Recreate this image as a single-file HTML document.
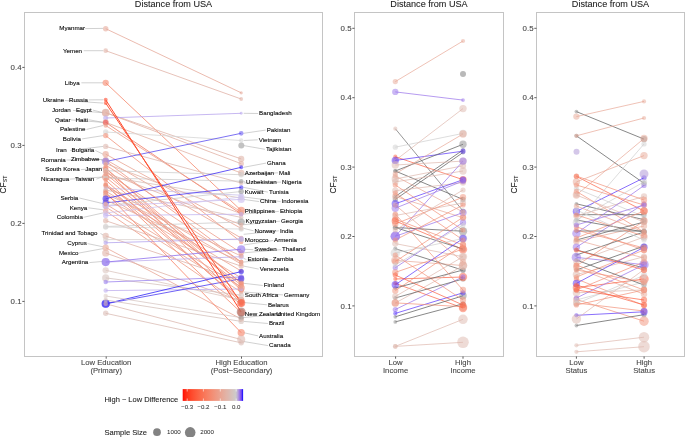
<!DOCTYPE html>
<html><head><meta charset="utf-8"><style>
html,body{margin:0;padding:0;background:#fff;}
svg{display:block;font-family:"Liberation Sans", sans-serif;will-change:transform;}
</style></head><body>
<svg width="685" height="437" viewBox="0 0 685 437">
<rect width="685" height="437" fill="#fff"/>
<rect x="24.5" y="12.5" width="298.0" height="344.0" fill="none" stroke="#c4c4c4" stroke-width="1"/>
<text x="173.5" y="7.0" font-size="9.1" text-anchor="middle" fill="#1a1a1a" stroke="#1a1a1a" stroke-width="0.15" stroke-opacity="0.5">Distance from USA</text>
<line x1="22.3" x2="24.5" y1="67.4" y2="67.4" stroke="#333333" stroke-width="0.8"/>
<text x="21.6" y="70.2" font-size="7.9" text-anchor="end" fill="#464646" stroke="#464646" stroke-width="0.15" stroke-opacity="0.6">0.4</text>
<line x1="22.3" x2="24.5" y1="145.4" y2="145.4" stroke="#333333" stroke-width="0.8"/>
<text x="21.6" y="148.2" font-size="7.9" text-anchor="end" fill="#464646" stroke="#464646" stroke-width="0.15" stroke-opacity="0.6">0.3</text>
<line x1="22.3" x2="24.5" y1="223.4" y2="223.4" stroke="#333333" stroke-width="0.8"/>
<text x="21.6" y="226.2" font-size="7.9" text-anchor="end" fill="#464646" stroke="#464646" stroke-width="0.15" stroke-opacity="0.6">0.2</text>
<line x1="22.3" x2="24.5" y1="301.4" y2="301.4" stroke="#333333" stroke-width="0.8"/>
<text x="21.6" y="304.2" font-size="7.9" text-anchor="end" fill="#464646" stroke="#464646" stroke-width="0.15" stroke-opacity="0.6">0.1</text>
<line x1="106.2" x2="106.2" y1="356.5" y2="358.7" stroke="#333333" stroke-width="0.8"/>
<text x="106.2" y="365.3" font-size="7.7" text-anchor="middle" fill="#464646" stroke="#464646" stroke-width="0.15" stroke-opacity="0.6">Low Education</text>
<text x="106.2" y="373.3" font-size="7.7" text-anchor="middle" fill="#464646" stroke="#464646" stroke-width="0.15" stroke-opacity="0.6">(Primary)</text>
<line x1="241.5" x2="241.5" y1="356.5" y2="358.7" stroke="#333333" stroke-width="0.8"/>
<text x="241.5" y="365.3" font-size="7.7" text-anchor="middle" fill="#464646" stroke="#464646" stroke-width="0.15" stroke-opacity="0.6">High Education</text>
<text x="241.5" y="373.3" font-size="7.7" text-anchor="middle" fill="#464646" stroke="#464646" stroke-width="0.15" stroke-opacity="0.6">(Post−Secondary)</text>
<rect x="354.5" y="12.5" width="149.0" height="344.0" fill="none" stroke="#c4c4c4" stroke-width="1"/>
<text x="429.0" y="7.0" font-size="9.1" text-anchor="middle" fill="#1a1a1a" stroke="#1a1a1a" stroke-width="0.15" stroke-opacity="0.5">Distance from USA</text>
<line x1="352.3" x2="354.5" y1="28.3" y2="28.3" stroke="#333333" stroke-width="0.8"/>
<text x="351.6" y="31.1" font-size="7.9" text-anchor="end" fill="#464646" stroke="#464646" stroke-width="0.15" stroke-opacity="0.6">0.5</text>
<line x1="352.3" x2="354.5" y1="97.7" y2="97.7" stroke="#333333" stroke-width="0.8"/>
<text x="351.6" y="100.4" font-size="7.9" text-anchor="end" fill="#464646" stroke="#464646" stroke-width="0.15" stroke-opacity="0.6">0.4</text>
<line x1="352.3" x2="354.5" y1="167.1" y2="167.1" stroke="#333333" stroke-width="0.8"/>
<text x="351.6" y="169.9" font-size="7.9" text-anchor="end" fill="#464646" stroke="#464646" stroke-width="0.15" stroke-opacity="0.6">0.3</text>
<line x1="352.3" x2="354.5" y1="236.5" y2="236.5" stroke="#333333" stroke-width="0.8"/>
<text x="351.6" y="239.2" font-size="7.9" text-anchor="end" fill="#464646" stroke="#464646" stroke-width="0.15" stroke-opacity="0.6">0.2</text>
<line x1="352.3" x2="354.5" y1="305.9" y2="305.9" stroke="#333333" stroke-width="0.8"/>
<text x="351.6" y="308.7" font-size="7.9" text-anchor="end" fill="#464646" stroke="#464646" stroke-width="0.15" stroke-opacity="0.6">0.1</text>
<line x1="395.6" x2="395.6" y1="356.5" y2="358.7" stroke="#333333" stroke-width="0.8"/>
<text x="395.6" y="365.3" font-size="7.7" text-anchor="middle" fill="#464646" stroke="#464646" stroke-width="0.15" stroke-opacity="0.6">Low</text>
<text x="395.6" y="373.3" font-size="7.7" text-anchor="middle" fill="#464646" stroke="#464646" stroke-width="0.15" stroke-opacity="0.6">Income</text>
<line x1="463.0" x2="463.0" y1="356.5" y2="358.7" stroke="#333333" stroke-width="0.8"/>
<text x="463.0" y="365.3" font-size="7.7" text-anchor="middle" fill="#464646" stroke="#464646" stroke-width="0.15" stroke-opacity="0.6">High</text>
<text x="463.0" y="373.3" font-size="7.7" text-anchor="middle" fill="#464646" stroke="#464646" stroke-width="0.15" stroke-opacity="0.6">Income</text>
<rect x="536.5" y="12.5" width="148.0" height="344.0" fill="none" stroke="#c4c4c4" stroke-width="1"/>
<text x="610.5" y="7.0" font-size="9.1" text-anchor="middle" fill="#1a1a1a" stroke="#1a1a1a" stroke-width="0.15" stroke-opacity="0.5">Distance from USA</text>
<line x1="534.3" x2="536.5" y1="28.3" y2="28.3" stroke="#333333" stroke-width="0.8"/>
<text x="533.6" y="31.1" font-size="7.9" text-anchor="end" fill="#464646" stroke="#464646" stroke-width="0.15" stroke-opacity="0.6">0.5</text>
<line x1="534.3" x2="536.5" y1="97.7" y2="97.7" stroke="#333333" stroke-width="0.8"/>
<text x="533.6" y="100.4" font-size="7.9" text-anchor="end" fill="#464646" stroke="#464646" stroke-width="0.15" stroke-opacity="0.6">0.4</text>
<line x1="534.3" x2="536.5" y1="167.1" y2="167.1" stroke="#333333" stroke-width="0.8"/>
<text x="533.6" y="169.9" font-size="7.9" text-anchor="end" fill="#464646" stroke="#464646" stroke-width="0.15" stroke-opacity="0.6">0.3</text>
<line x1="534.3" x2="536.5" y1="236.5" y2="236.5" stroke="#333333" stroke-width="0.8"/>
<text x="533.6" y="239.2" font-size="7.9" text-anchor="end" fill="#464646" stroke="#464646" stroke-width="0.15" stroke-opacity="0.6">0.2</text>
<line x1="534.3" x2="536.5" y1="305.9" y2="305.9" stroke="#333333" stroke-width="0.8"/>
<text x="533.6" y="308.7" font-size="7.9" text-anchor="end" fill="#464646" stroke="#464646" stroke-width="0.15" stroke-opacity="0.6">0.1</text>
<line x1="576.4" x2="576.4" y1="356.5" y2="358.7" stroke="#333333" stroke-width="0.8"/>
<text x="576.4" y="365.3" font-size="7.7" text-anchor="middle" fill="#464646" stroke="#464646" stroke-width="0.15" stroke-opacity="0.6">Low</text>
<text x="576.4" y="373.3" font-size="7.7" text-anchor="middle" fill="#464646" stroke="#464646" stroke-width="0.15" stroke-opacity="0.6">Status</text>
<line x1="644.1" x2="644.1" y1="356.5" y2="358.7" stroke="#333333" stroke-width="0.8"/>
<text x="644.1" y="365.3" font-size="7.7" text-anchor="middle" fill="#464646" stroke="#464646" stroke-width="0.15" stroke-opacity="0.6">High</text>
<text x="644.1" y="373.3" font-size="7.7" text-anchor="middle" fill="#464646" stroke="#464646" stroke-width="0.15" stroke-opacity="0.6">Status</text>
<text transform="translate(6.3,184.6) rotate(-90)" text-anchor="middle" font-size="8.4" fill="#1a1a1a" stroke="#1a1a1a" stroke-width="0.15" stroke-opacity="0.5">CF<tspan font-size="5.2" dy="0.9">ST</tspan></text>
<text transform="translate(336.0,184.6) rotate(-90)" text-anchor="middle" font-size="8.4" fill="#1a1a1a" stroke="#1a1a1a" stroke-width="0.15" stroke-opacity="0.5">CF<tspan font-size="5.2" dy="0.9">ST</tspan></text>
<text transform="translate(516.8,184.6) rotate(-90)" text-anchor="middle" font-size="8.4" fill="#1a1a1a" stroke="#1a1a1a" stroke-width="0.15" stroke-opacity="0.5">CF<tspan font-size="5.2" dy="0.9">ST</tspan></text>
<text x="104.4" y="401.8" font-size="7.5" fill="#1a1a1a" stroke="#1a1a1a" stroke-width="0.15" stroke-opacity="0.5">High − Low Difference</text>
<defs><linearGradient id="lg" x1="0" x2="1" y1="0" y2="0">
<stop offset="0.000" stop-color="#ff0401"/>
<stop offset="0.025" stop-color="#ff1c0a"/>
<stop offset="0.050" stop-color="#ff2913"/>
<stop offset="0.075" stop-color="#ff331a"/>
<stop offset="0.100" stop-color="#ff3c20"/>
<stop offset="0.125" stop-color="#fe4326"/>
<stop offset="0.150" stop-color="#fe4a2c"/>
<stop offset="0.175" stop-color="#fe5032"/>
<stop offset="0.200" stop-color="#fd5637"/>
<stop offset="0.225" stop-color="#fd5c3c"/>
<stop offset="0.250" stop-color="#fc6142"/>
<stop offset="0.275" stop-color="#fb6747"/>
<stop offset="0.300" stop-color="#fb6c4c"/>
<stop offset="0.325" stop-color="#fa7052"/>
<stop offset="0.350" stop-color="#f97557"/>
<stop offset="0.375" stop-color="#f87a5c"/>
<stop offset="0.400" stop-color="#f77e62"/>
<stop offset="0.425" stop-color="#f68367"/>
<stop offset="0.450" stop-color="#f5876c"/>
<stop offset="0.475" stop-color="#f48b71"/>
<stop offset="0.500" stop-color="#f29077"/>
<stop offset="0.525" stop-color="#f1947c"/>
<stop offset="0.550" stop-color="#ef9882"/>
<stop offset="0.575" stop-color="#ed9c87"/>
<stop offset="0.600" stop-color="#eca08c"/>
<stop offset="0.625" stop-color="#eaa492"/>
<stop offset="0.650" stop-color="#e8a897"/>
<stop offset="0.675" stop-color="#e5ac9d"/>
<stop offset="0.700" stop-color="#e3b0a2"/>
<stop offset="0.725" stop-color="#e1b4a8"/>
<stop offset="0.750" stop-color="#deb7ad"/>
<stop offset="0.775" stop-color="#dbbbb3"/>
<stop offset="0.800" stop-color="#d8bfb8"/>
<stop offset="0.825" stop-color="#d5c3be"/>
<stop offset="0.850" stop-color="#d1c7c4"/>
<stop offset="0.875" stop-color="#cecac9"/>
<stop offset="0.900" stop-color="#c3b7d3"/>
<stop offset="0.925" stop-color="#ad91e0"/>
<stop offset="0.950" stop-color="#9169eb"/>
<stop offset="0.975" stop-color="#6a40f5"/>
<stop offset="1.000" stop-color="#0000ff"/>
</linearGradient></defs>
<rect x="182.7" y="389.1" width="60.4" height="11.8" fill="url(#lg)"/>
<line x1="187.2" x2="187.2" y1="389.1" y2="391.5" stroke="#fff" stroke-width="0.6"/>
<line x1="187.2" x2="187.2" y1="398.5" y2="400.9" stroke="#fff" stroke-width="0.6"/>
<text x="187.2" y="409.2" font-size="6.1" text-anchor="middle" fill="#333" stroke="#333" stroke-width="0.12" stroke-opacity="0.5">−0.3</text>
<line x1="203.4" x2="203.4" y1="389.1" y2="391.5" stroke="#fff" stroke-width="0.6"/>
<line x1="203.4" x2="203.4" y1="398.5" y2="400.9" stroke="#fff" stroke-width="0.6"/>
<text x="203.4" y="409.2" font-size="6.1" text-anchor="middle" fill="#333" stroke="#333" stroke-width="0.12" stroke-opacity="0.5">−0.2</text>
<line x1="220.3" x2="220.3" y1="389.1" y2="391.5" stroke="#fff" stroke-width="0.6"/>
<line x1="220.3" x2="220.3" y1="398.5" y2="400.9" stroke="#fff" stroke-width="0.6"/>
<text x="220.3" y="409.2" font-size="6.1" text-anchor="middle" fill="#333" stroke="#333" stroke-width="0.12" stroke-opacity="0.5">−0.1</text>
<line x1="236.2" x2="236.2" y1="389.1" y2="391.5" stroke="#fff" stroke-width="0.6"/>
<line x1="236.2" x2="236.2" y1="398.5" y2="400.9" stroke="#fff" stroke-width="0.6"/>
<text x="236.2" y="409.2" font-size="6.1" text-anchor="middle" fill="#333" stroke="#333" stroke-width="0.12" stroke-opacity="0.5">0.0</text>
<text x="104.4" y="434.7" font-size="7.6" fill="#1a1a1a" stroke="#1a1a1a" stroke-width="0.15" stroke-opacity="0.5">Sample Size</text>
<circle cx="157" cy="432.2" r="3.85" fill="#828282"/>
<circle cx="190.2" cy="432.4" r="5.3" fill="#828282"/>
<text x="167" y="434.4" font-size="6.2" fill="#1a1a1a">1000</text>
<text x="200.2" y="434.4" font-size="6.2" fill="#1a1a1a">2000</text>
<line x1="85.2" y1="28.6" x2="103.2" y2="28.4" stroke="#ababab" stroke-width="0.55"/>
<line x1="83.7" y1="50.7" x2="103.2" y2="50.7" stroke="#ababab" stroke-width="0.55"/>
<line x1="81.4" y1="82.8" x2="103.2" y2="82.8" stroke="#ababab" stroke-width="0.55"/>
<line x1="64.9" y1="100.5" x2="103.2" y2="103.1" stroke="#ababab" stroke-width="0.55"/>
<line x1="88.8" y1="99.9" x2="103.2" y2="99.8" stroke="#ababab" stroke-width="0.55"/>
<line x1="73.0" y1="110.4" x2="103.2" y2="112.7" stroke="#ababab" stroke-width="0.55"/>
<line x1="92.9" y1="110.1" x2="103.2" y2="112.7" stroke="#ababab" stroke-width="0.55"/>
<line x1="71.0" y1="119.9" x2="103.2" y2="122.4" stroke="#ababab" stroke-width="0.55"/>
<line x1="88.6" y1="119.7" x2="103.2" y2="122.4" stroke="#ababab" stroke-width="0.55"/>
<line x1="86.5" y1="129.4" x2="103.2" y2="125.5" stroke="#ababab" stroke-width="0.55"/>
<line x1="82.1" y1="138.9" x2="103.2" y2="135.6" stroke="#ababab" stroke-width="0.55"/>
<line x1="70.2" y1="150.5" x2="103.2" y2="146.4" stroke="#ababab" stroke-width="0.55"/>
<line x1="95.4" y1="150.5" x2="103.2" y2="154.2" stroke="#ababab" stroke-width="0.55"/>
<line x1="66.5" y1="160.0" x2="103.2" y2="159.5" stroke="#ababab" stroke-width="0.55"/>
<line x1="100.9" y1="159.7" x2="103.2" y2="161.0" stroke="#ababab" stroke-width="0.55"/>
<line x1="80.9" y1="169.6" x2="103.2" y2="167.9" stroke="#ababab" stroke-width="0.55"/>
<line x1="104.2" y1="169.3" x2="103.2" y2="170.2" stroke="#ababab" stroke-width="0.55"/>
<line x1="70.0" y1="179.1" x2="103.2" y2="177.0" stroke="#ababab" stroke-width="0.55"/>
<line x1="96.4" y1="179.1" x2="103.2" y2="176.6" stroke="#ababab" stroke-width="0.55"/>
<line x1="79.4" y1="198.0" x2="103.2" y2="203.7" stroke="#ababab" stroke-width="0.55"/>
<line x1="88.4" y1="207.8" x2="103.2" y2="209.8" stroke="#ababab" stroke-width="0.55"/>
<line x1="83.6" y1="217.3" x2="103.2" y2="212.9" stroke="#ababab" stroke-width="0.55"/>
<line x1="100.5" y1="233.5" x2="103.2" y2="235.0" stroke="#ababab" stroke-width="0.55"/>
<line x1="87.6" y1="243.6" x2="103.2" y2="246.8" stroke="#ababab" stroke-width="0.55"/>
<line x1="78.6" y1="253.1" x2="103.2" y2="248.6" stroke="#ababab" stroke-width="0.55"/>
<line x1="89.4" y1="262.6" x2="103.2" y2="261.4" stroke="#ababab" stroke-width="0.55"/>
<line x1="243.7" y1="113.3" x2="258.1" y2="113.5" stroke="#ababab" stroke-width="0.55"/>
<line x1="243.7" y1="133.3" x2="265.7" y2="130.1" stroke="#ababab" stroke-width="0.55"/>
<line x1="243.7" y1="140.5" x2="257.7" y2="139.8" stroke="#ababab" stroke-width="0.55"/>
<line x1="243.7" y1="145.6" x2="265.0" y2="149.3" stroke="#ababab" stroke-width="0.55"/>
<line x1="243.7" y1="167.3" x2="266.0" y2="163.1" stroke="#ababab" stroke-width="0.55"/>
<line x1="243.7" y1="173.0" x2="243.8" y2="172.8" stroke="#ababab" stroke-width="0.55"/>
<line x1="243.7" y1="174.7" x2="278.1" y2="172.8" stroke="#ababab" stroke-width="0.55"/>
<line x1="243.7" y1="181.2" x2="245.0" y2="182.1" stroke="#ababab" stroke-width="0.55"/>
<line x1="243.7" y1="183.0" x2="281.0" y2="182.1" stroke="#ababab" stroke-width="0.55"/>
<line x1="243.7" y1="191.5" x2="243.8" y2="192.1" stroke="#ababab" stroke-width="0.55"/>
<line x1="243.7" y1="187.4" x2="267.9" y2="192.1" stroke="#ababab" stroke-width="0.55"/>
<line x1="243.7" y1="199.4" x2="259.1" y2="201.6" stroke="#ababab" stroke-width="0.55"/>
<line x1="243.7" y1="197.0" x2="280.6" y2="201.6" stroke="#ababab" stroke-width="0.55"/>
<line x1="243.7" y1="210.5" x2="243.8" y2="211.4" stroke="#ababab" stroke-width="0.55"/>
<line x1="243.7" y1="214.0" x2="278.9" y2="211.4" stroke="#ababab" stroke-width="0.55"/>
<line x1="243.7" y1="222.0" x2="244.5" y2="221.2" stroke="#ababab" stroke-width="0.55"/>
<line x1="243.7" y1="224.7" x2="280.0" y2="221.2" stroke="#ababab" stroke-width="0.55"/>
<line x1="243.7" y1="228.4" x2="253.6" y2="230.8" stroke="#ababab" stroke-width="0.55"/>
<line x1="243.7" y1="234.3" x2="278.9" y2="230.8" stroke="#ababab" stroke-width="0.55"/>
<line x1="243.7" y1="239.6" x2="243.8" y2="240.5" stroke="#ababab" stroke-width="0.55"/>
<line x1="243.7" y1="245.0" x2="273.0" y2="240.5" stroke="#ababab" stroke-width="0.55"/>
<line x1="243.7" y1="249.2" x2="253.3" y2="249.7" stroke="#ababab" stroke-width="0.55"/>
<line x1="243.7" y1="252.8" x2="281.0" y2="249.7" stroke="#ababab" stroke-width="0.55"/>
<line x1="243.7" y1="258.3" x2="246.4" y2="259.6" stroke="#ababab" stroke-width="0.55"/>
<line x1="243.7" y1="262.0" x2="271.8" y2="259.6" stroke="#ababab" stroke-width="0.55"/>
<line x1="243.7" y1="266.1" x2="258.7" y2="269.1" stroke="#ababab" stroke-width="0.55"/>
<line x1="243.7" y1="283.3" x2="262.8" y2="285.5" stroke="#ababab" stroke-width="0.55"/>
<line x1="243.7" y1="295.2" x2="243.8" y2="294.9" stroke="#ababab" stroke-width="0.55"/>
<line x1="243.7" y1="292.0" x2="283.0" y2="294.9" stroke="#ababab" stroke-width="0.55"/>
<line x1="243.7" y1="302.5" x2="266.9" y2="304.8" stroke="#ababab" stroke-width="0.55"/>
<line x1="243.7" y1="312.6" x2="243.8" y2="314.3" stroke="#ababab" stroke-width="0.55"/>
<line x1="243.7" y1="317.6" x2="275.2" y2="314.3" stroke="#ababab" stroke-width="0.55"/>
<line x1="243.7" y1="321.4" x2="267.9" y2="323.5" stroke="#ababab" stroke-width="0.55"/>
<line x1="243.7" y1="332.7" x2="258.1" y2="335.9" stroke="#ababab" stroke-width="0.55"/>
<line x1="243.7" y1="341.5" x2="268.0" y2="345.6" stroke="#ababab" stroke-width="0.55"/>
<line x1="105.7" y1="28.7" x2="241.2" y2="92.8" stroke="#e6aa9b" stroke-width="0.8"/>
<line x1="105.7" y1="50.7" x2="241.2" y2="99.0" stroke="#e1b3a7" stroke-width="0.8"/>
<line x1="105.7" y1="82.8" x2="241.2" y2="210.5" stroke="#f5866b" stroke-width="0.8"/>
<line x1="105.7" y1="112.7" x2="241.2" y2="158.9" stroke="#e0b4a8" stroke-width="0.8"/>
<line x1="105.7" y1="112.7" x2="241.2" y2="163.7" stroke="#e2b1a5" stroke-width="0.8"/>
<line x1="105.7" y1="118.0" x2="241.2" y2="113.3" stroke="#b9a6ee" stroke-width="0.8"/>
<line x1="105.7" y1="122.4" x2="241.2" y2="173.0" stroke="#e2b2a5" stroke-width="0.8"/>
<line x1="105.7" y1="122.4" x2="241.2" y2="214.0" stroke="#f07a62" stroke-width="0.8"/>
<line x1="105.7" y1="125.5" x2="241.2" y2="212.0" stroke="#ed9e8a" stroke-width="0.8"/>
<line x1="105.7" y1="132.0" x2="241.2" y2="140.5" stroke="#d6d6d6" stroke-width="0.8"/>
<line x1="105.7" y1="135.6" x2="241.2" y2="242.0" stroke="#f1937b" stroke-width="0.8"/>
<line x1="105.7" y1="146.4" x2="241.2" y2="183.0" stroke="#ddb9b0" stroke-width="0.8"/>
<line x1="105.7" y1="154.2" x2="241.2" y2="228.4" stroke="#e9a593" stroke-width="0.8"/>
<line x1="105.7" y1="159.5" x2="241.2" y2="238.0" stroke="#eaa290" stroke-width="0.8"/>
<line x1="105.7" y1="161.0" x2="241.2" y2="262.0" stroke="#f0967f" stroke-width="0.8"/>
<line x1="105.7" y1="161.5" x2="241.2" y2="133.3" stroke="#5a4cf0" stroke-width="0.8"/>
<line x1="105.7" y1="167.9" x2="241.2" y2="290.0" stroke="#f48a6f" stroke-width="0.8"/>
<line x1="105.7" y1="170.2" x2="241.2" y2="300.0" stroke="#f5856a" stroke-width="0.8"/>
<line x1="105.7" y1="168.5" x2="241.2" y2="283.3" stroke="#f38e75" stroke-width="0.8"/>
<line x1="105.7" y1="170.7" x2="241.2" y2="174.7" stroke="#cfcfcf" stroke-width="0.8"/>
<line x1="105.7" y1="172.0" x2="241.2" y2="262.0" stroke="#ed9c87" stroke-width="0.8"/>
<line x1="105.7" y1="177.0" x2="241.2" y2="287.9" stroke="#f29078" stroke-width="0.8"/>
<line x1="105.7" y1="178.0" x2="241.2" y2="181.2" stroke="#cdcdcd" stroke-width="0.8"/>
<line x1="105.7" y1="176.6" x2="241.2" y2="198.0" stroke="#d6c1bb" stroke-width="0.8"/>
<line x1="105.7" y1="185.0" x2="241.2" y2="312.6" stroke="#f5866b" stroke-width="0.8"/>
<line x1="105.7" y1="185.4" x2="241.2" y2="300.5" stroke="#f38e74" stroke-width="0.8"/>
<line x1="105.7" y1="188.1" x2="241.2" y2="195.2" stroke="#c9c0ea" stroke-width="0.8"/>
<line x1="105.7" y1="191.2" x2="241.2" y2="271.0" stroke="#eba28f" stroke-width="0.8"/>
<line x1="105.7" y1="190.0" x2="241.2" y2="217.4" stroke="#d9beb7" stroke-width="0.8"/>
<line x1="105.7" y1="163.7" x2="241.2" y2="213.7" stroke="#e2b2a5" stroke-width="0.8"/>
<line x1="105.7" y1="195.0" x2="241.2" y2="278.0" stroke="#eca08c" stroke-width="0.8"/>
<line x1="105.7" y1="203.0" x2="241.2" y2="187.4" stroke="#4636f4" stroke-width="0.8"/>
<line x1="105.7" y1="205.6" x2="241.2" y2="191.5" stroke="#cdcdcd" stroke-width="0.8"/>
<line x1="105.7" y1="207.0" x2="241.2" y2="292.0" stroke="#ec9f8b" stroke-width="0.8"/>
<line x1="105.7" y1="211.0" x2="241.2" y2="304.0" stroke="#ee9a85" stroke-width="0.8"/>
<line x1="105.7" y1="206.0" x2="241.2" y2="199.4" stroke="#cbbdf0" stroke-width="0.8"/>
<line x1="105.7" y1="213.0" x2="241.2" y2="197.0" stroke="#d2c8f0" stroke-width="0.8"/>
<line x1="105.7" y1="215.5" x2="241.2" y2="214.2" stroke="#c4b6f0" stroke-width="0.8"/>
<line x1="105.7" y1="220.7" x2="241.2" y2="266.1" stroke="#e0b4a9" stroke-width="0.8"/>
<line x1="105.7" y1="226.5" x2="241.2" y2="222.0" stroke="#cdcdcd" stroke-width="0.8"/>
<line x1="105.7" y1="227.0" x2="241.2" y2="229.0" stroke="#d4d4d4" stroke-width="0.8"/>
<line x1="105.7" y1="236.0" x2="241.2" y2="281.0" stroke="#e0b4a9" stroke-width="0.8"/>
<line x1="105.7" y1="239.6" x2="241.2" y2="239.6" stroke="#d9d0ce" stroke-width="0.8"/>
<line x1="105.7" y1="242.8" x2="241.2" y2="239.0" stroke="#b4a4ee" stroke-width="0.8"/>
<line x1="105.7" y1="247.7" x2="241.2" y2="319.0" stroke="#e8a695" stroke-width="0.8"/>
<line x1="105.7" y1="192.5" x2="241.2" y2="332.7" stroke="#f77f62" stroke-width="0.8"/>
<line x1="105.7" y1="253.0" x2="241.2" y2="301.0" stroke="#e1b3a7" stroke-width="0.8"/>
<line x1="105.7" y1="262.1" x2="241.2" y2="256.7" stroke="#c0b0ee" stroke-width="0.8"/>
<line x1="105.7" y1="270.3" x2="241.2" y2="300.0" stroke="#dcc6c0" stroke-width="0.8"/>
<line x1="105.7" y1="277.9" x2="241.2" y2="295.2" stroke="#d5c3be" stroke-width="0.8"/>
<line x1="105.7" y1="282.0" x2="241.2" y2="277.0" stroke="#9c84ee" stroke-width="0.8"/>
<line x1="105.7" y1="290.6" x2="241.2" y2="289.0" stroke="#c0b0ee" stroke-width="0.8"/>
<line x1="105.7" y1="303.8" x2="241.2" y2="271.6" stroke="#2f22f7" stroke-width="0.8"/>
<line x1="105.7" y1="303.8" x2="241.2" y2="278.7" stroke="#4a3af3" stroke-width="0.8"/>
<line x1="105.7" y1="313.3" x2="241.2" y2="342.8" stroke="#dabdb5" stroke-width="0.8"/>
<line x1="105.7" y1="303.8" x2="241.2" y2="339.5" stroke="#dcb9b0" stroke-width="0.8"/>
<line x1="105.7" y1="296.0" x2="241.2" y2="317.6" stroke="#d8c8c4" stroke-width="0.8"/>
<line x1="105.7" y1="300.0" x2="241.2" y2="321.4" stroke="#d6c1bb" stroke-width="0.8"/>
<line x1="105.7" y1="186.0" x2="241.2" y2="264.0" stroke="#eaa390" stroke-width="0.8"/>
<line x1="105.7" y1="180.0" x2="241.2" y2="302.5" stroke="#f4896f" stroke-width="0.8"/>
<line x1="105.7" y1="184.0" x2="241.2" y2="285.0" stroke="#f0967f" stroke-width="0.8"/>
<line x1="105.7" y1="174.0" x2="241.2" y2="283.0" stroke="#f29179" stroke-width="0.8"/>
<line x1="105.7" y1="194.0" x2="241.2" y2="256.0" stroke="#e6ab9c" stroke-width="0.8"/>
<line x1="105.7" y1="204.0" x2="241.2" y2="287.0" stroke="#eca08c" stroke-width="0.8"/>
<line x1="105.7" y1="200.0" x2="241.2" y2="262.0" stroke="#e6ab9c" stroke-width="0.8"/>
<line x1="105.7" y1="165.0" x2="241.2" y2="252.8" stroke="#ed9d89" stroke-width="0.8"/>
<line x1="105.7" y1="172.5" x2="241.2" y2="224.7" stroke="#e2b1a4" stroke-width="0.8"/>
<line x1="105.7" y1="262.1" x2="241.2" y2="249.2" stroke="#8e70ee" stroke-width="0.8"/>
<line x1="105.7" y1="198.7" x2="241.2" y2="167.3" stroke="#3d2cf5" stroke-width="0.8"/>
<line x1="105.7" y1="99.8" x2="241.2" y2="312.0" stroke="#ff4a2e" stroke-width="1.0"/>
<line x1="105.7" y1="103.1" x2="241.2" y2="303.0" stroke="#fd5536" stroke-width="1.0"/>
<circle cx="105.7" cy="28.7" r="2.70" fill="#e6aa9b" fill-opacity="0.6"/>
<circle cx="241.2" cy="92.8" r="1.62" fill="#e6aa9b" fill-opacity="0.6"/>
<circle cx="105.7" cy="50.7" r="2.34" fill="#e1b3a7" fill-opacity="0.6"/>
<circle cx="241.2" cy="99.0" r="1.89" fill="#e1b3a7" fill-opacity="0.6"/>
<circle cx="105.7" cy="82.8" r="3.15" fill="#f5866b" fill-opacity="0.6"/>
<circle cx="241.2" cy="210.5" r="3.78" fill="#f5866b" fill-opacity="0.6"/>
<circle cx="105.7" cy="112.7" r="3.87" fill="#e0b4a8" fill-opacity="0.6"/>
<circle cx="241.2" cy="158.9" r="3.15" fill="#e0b4a8" fill-opacity="0.6"/>
<circle cx="105.7" cy="112.7" r="3.60" fill="#e2b1a5" fill-opacity="0.6"/>
<circle cx="241.2" cy="163.7" r="2.70" fill="#e2b1a5" fill-opacity="0.6"/>
<circle cx="105.7" cy="118.0" r="2.52" fill="#b9a6ee" fill-opacity="0.6"/>
<circle cx="241.2" cy="113.3" r="1.44" fill="#b9a6ee" fill-opacity="0.6"/>
<circle cx="105.7" cy="122.4" r="3.15" fill="#e2b2a5" fill-opacity="0.6"/>
<circle cx="241.2" cy="173.0" r="3.15" fill="#e2b2a5" fill-opacity="0.6"/>
<circle cx="105.7" cy="122.4" r="2.70" fill="#ec4a4a" fill-opacity="0.6"/>
<circle cx="241.2" cy="214.0" r="2.25" fill="#ec4a4a" fill-opacity="0.6"/>
<circle cx="105.7" cy="125.5" r="2.25" fill="#ed9e8a" fill-opacity="0.6"/>
<circle cx="241.2" cy="212.0" r="2.25" fill="#ed9e8a" fill-opacity="0.6"/>
<circle cx="105.7" cy="132.0" r="2.70" fill="#d6d6d6" fill-opacity="0.6"/>
<circle cx="241.2" cy="140.5" r="2.25" fill="#d6d6d6" fill-opacity="0.6"/>
<circle cx="105.7" cy="135.6" r="2.70" fill="#f1937b" fill-opacity="0.6"/>
<circle cx="241.2" cy="242.0" r="2.25" fill="#f1937b" fill-opacity="0.6"/>
<circle cx="105.7" cy="146.4" r="2.70" fill="#ddb9b0" fill-opacity="0.6"/>
<circle cx="241.2" cy="183.0" r="2.25" fill="#ddb9b0" fill-opacity="0.6"/>
<circle cx="105.7" cy="154.2" r="3.15" fill="#e9a593" fill-opacity="0.6"/>
<circle cx="241.2" cy="228.4" r="2.25" fill="#e9a593" fill-opacity="0.6"/>
<circle cx="105.7" cy="159.5" r="2.70" fill="#eaa290" fill-opacity="0.6"/>
<circle cx="241.2" cy="238.0" r="2.25" fill="#eaa290" fill-opacity="0.6"/>
<circle cx="105.7" cy="161.0" r="2.70" fill="#f0967f" fill-opacity="0.6"/>
<circle cx="241.2" cy="262.0" r="2.25" fill="#f0967f" fill-opacity="0.6"/>
<circle cx="105.7" cy="161.5" r="3.78" fill="#8f80f0" fill-opacity="0.6"/>
<circle cx="241.2" cy="133.3" r="2.34" fill="#6a5cf0" fill-opacity="0.6"/>
<circle cx="105.7" cy="167.9" r="2.70" fill="#f48a6f" fill-opacity="0.6"/>
<circle cx="241.2" cy="290.0" r="2.70" fill="#f48a6f" fill-opacity="0.6"/>
<circle cx="105.7" cy="170.2" r="2.70" fill="#f5856a" fill-opacity="0.6"/>
<circle cx="241.2" cy="300.0" r="3.15" fill="#f5856a" fill-opacity="0.6"/>
<circle cx="105.7" cy="168.5" r="2.25" fill="#f38e75" fill-opacity="0.6"/>
<circle cx="241.2" cy="283.3" r="2.70" fill="#f38e75" fill-opacity="0.6"/>
<circle cx="105.7" cy="170.7" r="2.70" fill="#cfcfcf" fill-opacity="0.6"/>
<circle cx="241.2" cy="174.7" r="2.70" fill="#cfcfcf" fill-opacity="0.6"/>
<circle cx="105.7" cy="172.0" r="2.25" fill="#ed9c87" fill-opacity="0.6"/>
<circle cx="241.2" cy="262.0" r="2.25" fill="#ed9c87" fill-opacity="0.6"/>
<circle cx="105.7" cy="177.0" r="3.60" fill="#f29078" fill-opacity="0.6"/>
<circle cx="241.2" cy="287.9" r="3.60" fill="#f29078" fill-opacity="0.6"/>
<circle cx="105.7" cy="178.0" r="2.70" fill="#e0c8c0" fill-opacity="0.6"/>
<circle cx="241.2" cy="181.2" r="2.25" fill="#9a9a9a" fill-opacity="0.6"/>
<circle cx="105.7" cy="176.6" r="2.25" fill="#d6c1bb" fill-opacity="0.6"/>
<circle cx="241.2" cy="198.0" r="2.25" fill="#d6c1bb" fill-opacity="0.6"/>
<circle cx="105.7" cy="185.0" r="2.25" fill="#f5866b" fill-opacity="0.6"/>
<circle cx="241.2" cy="312.6" r="3.60" fill="#f5866b" fill-opacity="0.6"/>
<circle cx="105.7" cy="185.4" r="2.25" fill="#f38e74" fill-opacity="0.6"/>
<circle cx="241.2" cy="300.5" r="2.70" fill="#f38e74" fill-opacity="0.6"/>
<circle cx="105.7" cy="188.1" r="2.25" fill="#c9c0ea" fill-opacity="0.6"/>
<circle cx="241.2" cy="195.2" r="2.25" fill="#c9c0ea" fill-opacity="0.6"/>
<circle cx="105.7" cy="191.2" r="2.70" fill="#eba28f" fill-opacity="0.6"/>
<circle cx="241.2" cy="271.0" r="2.25" fill="#eba28f" fill-opacity="0.6"/>
<circle cx="105.7" cy="190.0" r="2.25" fill="#d9beb7" fill-opacity="0.6"/>
<circle cx="241.2" cy="217.4" r="2.25" fill="#d9beb7" fill-opacity="0.6"/>
<circle cx="105.7" cy="163.7" r="2.25" fill="#e2b2a5" fill-opacity="0.6"/>
<circle cx="241.2" cy="213.7" r="2.25" fill="#e2b2a5" fill-opacity="0.6"/>
<circle cx="105.7" cy="195.0" r="2.70" fill="#eca08c" fill-opacity="0.6"/>
<circle cx="241.2" cy="278.0" r="2.70" fill="#eca08c" fill-opacity="0.6"/>
<circle cx="105.7" cy="203.0" r="3.15" fill="#4636f4" fill-opacity="0.6"/>
<circle cx="241.2" cy="187.4" r="2.25" fill="#4636f4" fill-opacity="0.6"/>
<circle cx="105.7" cy="205.6" r="3.15" fill="#d0c8f0" fill-opacity="0.6"/>
<circle cx="241.2" cy="191.5" r="2.70" fill="#9a9a9a" fill-opacity="0.6"/>
<circle cx="105.7" cy="207.0" r="2.25" fill="#ec9f8b" fill-opacity="0.6"/>
<circle cx="241.2" cy="292.0" r="2.25" fill="#ec9f8b" fill-opacity="0.6"/>
<circle cx="105.7" cy="211.0" r="2.70" fill="#ee9a85" fill-opacity="0.6"/>
<circle cx="241.2" cy="304.0" r="2.70" fill="#ee9a85" fill-opacity="0.6"/>
<circle cx="105.7" cy="206.0" r="3.15" fill="#cbbdf0" fill-opacity="0.6"/>
<circle cx="241.2" cy="199.4" r="3.60" fill="#cbbdf0" fill-opacity="0.6"/>
<circle cx="105.7" cy="213.0" r="2.70" fill="#d2c8f0" fill-opacity="0.6"/>
<circle cx="241.2" cy="197.0" r="3.15" fill="#d2c8f0" fill-opacity="0.6"/>
<circle cx="105.7" cy="215.5" r="2.70" fill="#c4b6f0" fill-opacity="0.6"/>
<circle cx="241.2" cy="214.2" r="2.25" fill="#c4b6f0" fill-opacity="0.6"/>
<circle cx="105.7" cy="220.7" r="2.70" fill="#e0b4a9" fill-opacity="0.6"/>
<circle cx="241.2" cy="266.1" r="2.70" fill="#e0b4a9" fill-opacity="0.6"/>
<circle cx="105.7" cy="226.5" r="2.70" fill="#ddd6d4" fill-opacity="0.6"/>
<circle cx="241.2" cy="222.0" r="3.60" fill="#9a9a9a" fill-opacity="0.6"/>
<circle cx="105.7" cy="227.0" r="2.70" fill="#d4d4d4" fill-opacity="0.6"/>
<circle cx="241.2" cy="229.0" r="2.70" fill="#d4d4d4" fill-opacity="0.6"/>
<circle cx="105.7" cy="236.0" r="3.15" fill="#e0b4a9" fill-opacity="0.6"/>
<circle cx="241.2" cy="281.0" r="2.70" fill="#e0b4a9" fill-opacity="0.6"/>
<circle cx="105.7" cy="239.6" r="2.70" fill="#d9d0ce" fill-opacity="0.6"/>
<circle cx="241.2" cy="239.6" r="2.70" fill="#d9d0ce" fill-opacity="0.6"/>
<circle cx="105.7" cy="242.8" r="2.25" fill="#b4a4ee" fill-opacity="0.6"/>
<circle cx="241.2" cy="239.0" r="2.70" fill="#b4a4ee" fill-opacity="0.6"/>
<circle cx="105.7" cy="247.7" r="3.15" fill="#e8a695" fill-opacity="0.6"/>
<circle cx="241.2" cy="319.0" r="2.70" fill="#e8a695" fill-opacity="0.6"/>
<circle cx="105.7" cy="192.5" r="2.25" fill="#f77f62" fill-opacity="0.6"/>
<circle cx="241.2" cy="332.7" r="3.60" fill="#f77f62" fill-opacity="0.6"/>
<circle cx="105.7" cy="253.0" r="3.60" fill="#e1b3a7" fill-opacity="0.6"/>
<circle cx="241.2" cy="301.0" r="3.15" fill="#e1b3a7" fill-opacity="0.6"/>
<circle cx="105.7" cy="262.1" r="4.05" fill="#c0b0ee" fill-opacity="0.6"/>
<circle cx="241.2" cy="256.7" r="2.70" fill="#c0b0ee" fill-opacity="0.6"/>
<circle cx="105.7" cy="270.3" r="3.15" fill="#dcc6c0" fill-opacity="0.6"/>
<circle cx="241.2" cy="300.0" r="2.70" fill="#dcc6c0" fill-opacity="0.6"/>
<circle cx="105.7" cy="277.9" r="3.60" fill="#d5c3be" fill-opacity="0.6"/>
<circle cx="241.2" cy="295.2" r="2.70" fill="#d5c3be" fill-opacity="0.6"/>
<circle cx="105.7" cy="282.0" r="2.25" fill="#9c84ee" fill-opacity="0.6"/>
<circle cx="241.2" cy="277.0" r="2.70" fill="#9c84ee" fill-opacity="0.6"/>
<circle cx="105.7" cy="290.6" r="2.25" fill="#c0b0ee" fill-opacity="0.6"/>
<circle cx="241.2" cy="289.0" r="2.25" fill="#c0b0ee" fill-opacity="0.6"/>
<circle cx="105.7" cy="303.8" r="4.05" fill="#2f22f7" fill-opacity="0.6"/>
<circle cx="241.2" cy="271.6" r="2.70" fill="#2f22f7" fill-opacity="0.6"/>
<circle cx="105.7" cy="303.8" r="4.05" fill="#4a3af3" fill-opacity="0.6"/>
<circle cx="241.2" cy="278.7" r="3.15" fill="#4a3af3" fill-opacity="0.6"/>
<circle cx="105.7" cy="313.3" r="2.70" fill="#dabdb5" fill-opacity="0.6"/>
<circle cx="241.2" cy="342.8" r="2.70" fill="#dabdb5" fill-opacity="0.6"/>
<circle cx="105.7" cy="303.8" r="2.25" fill="#dcb9b0" fill-opacity="0.6"/>
<circle cx="241.2" cy="339.5" r="4.05" fill="#dcb9b0" fill-opacity="0.6"/>
<circle cx="105.7" cy="296.0" r="2.25" fill="#e0d0cc" fill-opacity="0.6"/>
<circle cx="241.2" cy="317.6" r="2.70" fill="#9a9a9a" fill-opacity="0.6"/>
<circle cx="105.7" cy="300.0" r="2.25" fill="#d6c1bb" fill-opacity="0.6"/>
<circle cx="241.2" cy="321.4" r="2.70" fill="#d6c1bb" fill-opacity="0.6"/>
<circle cx="105.7" cy="186.0" r="2.25" fill="#eaa390" fill-opacity="0.6"/>
<circle cx="241.2" cy="264.0" r="2.25" fill="#eaa390" fill-opacity="0.6"/>
<circle cx="105.7" cy="180.0" r="2.25" fill="#f4896f" fill-opacity="0.6"/>
<circle cx="241.2" cy="302.5" r="2.70" fill="#f4896f" fill-opacity="0.6"/>
<circle cx="105.7" cy="184.0" r="2.25" fill="#f0967f" fill-opacity="0.6"/>
<circle cx="241.2" cy="285.0" r="2.70" fill="#f0967f" fill-opacity="0.6"/>
<circle cx="105.7" cy="174.0" r="2.25" fill="#f29179" fill-opacity="0.6"/>
<circle cx="241.2" cy="283.0" r="2.25" fill="#f29179" fill-opacity="0.6"/>
<circle cx="105.7" cy="194.0" r="2.25" fill="#e6ab9c" fill-opacity="0.6"/>
<circle cx="241.2" cy="256.0" r="2.25" fill="#e6ab9c" fill-opacity="0.6"/>
<circle cx="105.7" cy="204.0" r="2.25" fill="#eca08c" fill-opacity="0.6"/>
<circle cx="241.2" cy="287.0" r="2.25" fill="#eca08c" fill-opacity="0.6"/>
<circle cx="105.7" cy="200.0" r="2.25" fill="#e6ab9c" fill-opacity="0.6"/>
<circle cx="241.2" cy="262.0" r="2.25" fill="#e6ab9c" fill-opacity="0.6"/>
<circle cx="105.7" cy="165.0" r="2.25" fill="#ed9d89" fill-opacity="0.6"/>
<circle cx="241.2" cy="252.8" r="2.70" fill="#ed9d89" fill-opacity="0.6"/>
<circle cx="105.7" cy="172.5" r="2.25" fill="#e2b1a4" fill-opacity="0.6"/>
<circle cx="241.2" cy="224.7" r="2.25" fill="#e2b1a4" fill-opacity="0.6"/>
<circle cx="105.7" cy="262.1" r="4.05" fill="#8e70ee" fill-opacity="0.6"/>
<circle cx="241.2" cy="249.2" r="4.05" fill="#8e70ee" fill-opacity="0.6"/>
<circle cx="105.7" cy="198.7" r="3.15" fill="#3d2cf5" fill-opacity="0.6"/>
<circle cx="241.2" cy="167.3" r="1.98" fill="#3d2cf5" fill-opacity="0.6"/>
<circle cx="105.7" cy="99.8" r="1.98" fill="#ff4a2e" fill-opacity="0.6"/>
<circle cx="241.2" cy="312.0" r="4.50" fill="#a8675f" fill-opacity="0.6"/>
<circle cx="105.7" cy="103.1" r="1.98" fill="#fd5536" fill-opacity="0.6"/>
<circle cx="241.2" cy="303.0" r="4.05" fill="#fd5536" fill-opacity="0.6"/>
<circle cx="241.3" cy="145.6" r="3.0" fill="#a8a8a8" fill-opacity="0.7"/>
<text x="59.3" y="30.4" font-size="6.2" fill="#000" stroke="#000" stroke-width="0.18" stroke-opacity="0.5">Myanmar</text>
<text x="63.0" y="52.5" font-size="6.2" fill="#000" stroke="#000" stroke-width="0.18" stroke-opacity="0.5">Yemen</text>
<text x="64.8" y="84.5" font-size="6.2" fill="#000" stroke="#000" stroke-width="0.18" stroke-opacity="0.5">Libya</text>
<text x="42.8" y="102.2" font-size="6.2" fill="#000" stroke="#000" stroke-width="0.18" stroke-opacity="0.5">Ukraine</text>
<text x="69.1" y="101.7" font-size="6.2" fill="#000" stroke="#000" stroke-width="0.18" stroke-opacity="0.5">Russia</text>
<text x="51.9" y="112.2" font-size="6.2" fill="#000" stroke="#000" stroke-width="0.18" stroke-opacity="0.5">Jordan</text>
<text x="76.0" y="111.8" font-size="6.2" fill="#000" stroke="#000" stroke-width="0.18" stroke-opacity="0.5">Egypt</text>
<text x="55.1" y="121.7" font-size="6.2" fill="#000" stroke="#000" stroke-width="0.18" stroke-opacity="0.5">Qatar</text>
<text x="75.5" y="121.5" font-size="6.2" fill="#000" stroke="#000" stroke-width="0.18" stroke-opacity="0.5">Haiti</text>
<text x="59.9" y="131.2" font-size="6.2" fill="#000" stroke="#000" stroke-width="0.18" stroke-opacity="0.5">Palestine</text>
<text x="62.8" y="140.7" font-size="6.2" fill="#000" stroke="#000" stroke-width="0.18" stroke-opacity="0.5">Bolivia</text>
<text x="56.0" y="152.2" font-size="6.2" fill="#000" stroke="#000" stroke-width="0.18" stroke-opacity="0.5">Iran</text>
<text x="71.6" y="152.2" font-size="6.2" fill="#000" stroke="#000" stroke-width="0.18" stroke-opacity="0.5">Bulgaria</text>
<text x="41.0" y="161.8" font-size="6.2" fill="#000" stroke="#000" stroke-width="0.18" stroke-opacity="0.5">Romania</text>
<text x="70.9" y="161.4" font-size="6.2" fill="#000" stroke="#000" stroke-width="0.18" stroke-opacity="0.5">Zimbabwe</text>
<text x="45.3" y="171.3" font-size="6.2" fill="#000" stroke="#000" stroke-width="0.18" stroke-opacity="0.5">South Korea</text>
<text x="85.2" y="171.1" font-size="6.2" fill="#000" stroke="#000" stroke-width="0.18" stroke-opacity="0.5">Japan</text>
<text x="41.0" y="180.8" font-size="6.2" fill="#000" stroke="#000" stroke-width="0.18" stroke-opacity="0.5">Nicaragua</text>
<text x="75.0" y="180.8" font-size="6.2" fill="#000" stroke="#000" stroke-width="0.18" stroke-opacity="0.5">Taiwan</text>
<text x="60.4" y="199.8" font-size="6.2" fill="#000" stroke="#000" stroke-width="0.18" stroke-opacity="0.5">Serbia</text>
<text x="69.7" y="209.6" font-size="6.2" fill="#000" stroke="#000" stroke-width="0.18" stroke-opacity="0.5">Kenya</text>
<text x="56.7" y="219.1" font-size="6.2" fill="#000" stroke="#000" stroke-width="0.18" stroke-opacity="0.5">Colombia</text>
<text x="41.4" y="235.2" font-size="6.2" fill="#000" stroke="#000" stroke-width="0.18" stroke-opacity="0.5">Trinidad and Tobago</text>
<text x="67.2" y="245.3" font-size="6.2" fill="#000" stroke="#000" stroke-width="0.18" stroke-opacity="0.5">Cyprus</text>
<text x="58.9" y="254.8" font-size="6.2" fill="#000" stroke="#000" stroke-width="0.18" stroke-opacity="0.5">Mexico</text>
<text x="61.8" y="264.4" font-size="6.2" fill="#000" stroke="#000" stroke-width="0.18" stroke-opacity="0.5">Argentina</text>
<text x="259.1" y="115.2" font-size="6.2" fill="#000" stroke="#000" stroke-width="0.18" stroke-opacity="0.5">Bangladesh</text>
<text x="266.7" y="131.8" font-size="6.2" fill="#000" stroke="#000" stroke-width="0.18" stroke-opacity="0.5">Pakistan</text>
<text x="258.7" y="141.6" font-size="6.2" fill="#000" stroke="#000" stroke-width="0.18" stroke-opacity="0.5">Vietnam</text>
<text x="266.0" y="151.1" font-size="6.2" fill="#000" stroke="#000" stroke-width="0.18" stroke-opacity="0.5">Tajikistan</text>
<text x="267.0" y="164.8" font-size="6.2" fill="#000" stroke="#000" stroke-width="0.18" stroke-opacity="0.5">Ghana</text>
<text x="244.8" y="174.6" font-size="6.2" fill="#000" stroke="#000" stroke-width="0.18" stroke-opacity="0.5">Azerbaijan</text>
<text x="279.1" y="174.6" font-size="6.2" fill="#000" stroke="#000" stroke-width="0.18" stroke-opacity="0.5">Mali</text>
<text x="246.0" y="183.8" font-size="6.2" fill="#000" stroke="#000" stroke-width="0.18" stroke-opacity="0.5">Uzbekistan</text>
<text x="282.0" y="183.8" font-size="6.2" fill="#000" stroke="#000" stroke-width="0.18" stroke-opacity="0.5">Nigeria</text>
<text x="244.8" y="193.8" font-size="6.2" fill="#000" stroke="#000" stroke-width="0.18" stroke-opacity="0.5">Kuwait</text>
<text x="268.9" y="193.8" font-size="6.2" fill="#000" stroke="#000" stroke-width="0.18" stroke-opacity="0.5">Tunisia</text>
<text x="260.1" y="203.3" font-size="6.2" fill="#000" stroke="#000" stroke-width="0.18" stroke-opacity="0.5">China</text>
<text x="281.6" y="203.3" font-size="6.2" fill="#000" stroke="#000" stroke-width="0.18" stroke-opacity="0.5">Indonesia</text>
<text x="244.8" y="213.2" font-size="6.2" fill="#000" stroke="#000" stroke-width="0.18" stroke-opacity="0.5">Philippines</text>
<text x="279.9" y="213.2" font-size="6.2" fill="#000" stroke="#000" stroke-width="0.18" stroke-opacity="0.5">Ethiopia</text>
<text x="245.5" y="222.9" font-size="6.2" fill="#000" stroke="#000" stroke-width="0.18" stroke-opacity="0.5">Kyrgyzstan</text>
<text x="281.0" y="222.9" font-size="6.2" fill="#000" stroke="#000" stroke-width="0.18" stroke-opacity="0.5">Georgia</text>
<text x="254.6" y="232.6" font-size="6.2" fill="#000" stroke="#000" stroke-width="0.18" stroke-opacity="0.5">Norway</text>
<text x="279.9" y="232.6" font-size="6.2" fill="#000" stroke="#000" stroke-width="0.18" stroke-opacity="0.5">India</text>
<text x="244.8" y="242.2" font-size="6.2" fill="#000" stroke="#000" stroke-width="0.18" stroke-opacity="0.5">Morocco</text>
<text x="274.0" y="242.2" font-size="6.2" fill="#000" stroke="#000" stroke-width="0.18" stroke-opacity="0.5">Armenia</text>
<text x="254.3" y="251.4" font-size="6.2" fill="#000" stroke="#000" stroke-width="0.18" stroke-opacity="0.5">Sweden</text>
<text x="282.0" y="251.4" font-size="6.2" fill="#000" stroke="#000" stroke-width="0.18" stroke-opacity="0.5">Thailand</text>
<text x="247.4" y="261.4" font-size="6.2" fill="#000" stroke="#000" stroke-width="0.18" stroke-opacity="0.5">Estonia</text>
<text x="272.8" y="261.4" font-size="6.2" fill="#000" stroke="#000" stroke-width="0.18" stroke-opacity="0.5">Zambia</text>
<text x="259.7" y="270.9" font-size="6.2" fill="#000" stroke="#000" stroke-width="0.18" stroke-opacity="0.5">Venezuela</text>
<text x="263.8" y="287.2" font-size="6.2" fill="#000" stroke="#000" stroke-width="0.18" stroke-opacity="0.5">Finland</text>
<text x="244.8" y="296.6" font-size="6.2" fill="#000" stroke="#000" stroke-width="0.18" stroke-opacity="0.5">South Africa</text>
<text x="284.0" y="296.6" font-size="6.2" fill="#000" stroke="#000" stroke-width="0.18" stroke-opacity="0.5">Germany</text>
<text x="267.9" y="306.6" font-size="6.2" fill="#000" stroke="#000" stroke-width="0.18" stroke-opacity="0.5">Belarus</text>
<text x="244.8" y="316.1" font-size="6.2" fill="#000" stroke="#000" stroke-width="0.18" stroke-opacity="0.5">New Zealand</text>
<text x="276.2" y="316.1" font-size="6.2" fill="#000" stroke="#000" stroke-width="0.18" stroke-opacity="0.5">United Kingdom</text>
<text x="268.9" y="325.2" font-size="6.2" fill="#000" stroke="#000" stroke-width="0.18" stroke-opacity="0.5">Brazil</text>
<text x="259.1" y="337.6" font-size="6.2" fill="#000" stroke="#000" stroke-width="0.18" stroke-opacity="0.5">Australia</text>
<text x="269.0" y="347.4" font-size="6.2" fill="#000" stroke="#000" stroke-width="0.18" stroke-opacity="0.5">Canada</text>
<line x1="395.3" y1="81.6" x2="463.0" y2="41.0" stroke="#e8a796" stroke-width="0.7"/>
<line x1="395.3" y1="91.9" x2="463.0" y2="100.1" stroke="#9670e9" stroke-width="0.7"/>
<line x1="395.3" y1="128.7" x2="463.0" y2="211.0" stroke="#6a6a6a" stroke-width="0.7"/>
<line x1="395.3" y1="147.2" x2="463.0" y2="133.4" stroke="#cfcfcf" stroke-width="0.7"/>
<line x1="395.3" y1="160.4" x2="463.0" y2="108.6" stroke="#deb8ae" stroke-width="0.7"/>
<line x1="395.3" y1="156.7" x2="463.0" y2="179.7" stroke="#fc5f40" stroke-width="0.7"/>
<line x1="395.3" y1="160.4" x2="463.0" y2="151.2" stroke="#5630f9" stroke-width="0.7"/>
<line x1="395.3" y1="173.8" x2="463.0" y2="134.0" stroke="#e8a796" stroke-width="0.7"/>
<line x1="395.3" y1="171.0" x2="463.0" y2="144.3" stroke="#6a6a6a" stroke-width="0.8"/>
<line x1="395.3" y1="171.0" x2="463.0" y2="199.4" stroke="#6a6a6a" stroke-width="0.8"/>
<line x1="395.3" y1="196.5" x2="463.0" y2="150.0" stroke="#6a6a6a" stroke-width="0.8"/>
<line x1="395.3" y1="199.4" x2="463.0" y2="152.5" stroke="#6a6a6a" stroke-width="0.8"/>
<line x1="395.3" y1="165.0" x2="463.0" y2="161.1" stroke="#deb8ae" stroke-width="0.7"/>
<line x1="395.3" y1="179.0" x2="463.0" y2="165.8" stroke="#deb8ae" stroke-width="0.7"/>
<line x1="395.3" y1="181.9" x2="463.0" y2="171.0" stroke="#deb8ae" stroke-width="0.7"/>
<line x1="395.3" y1="190.7" x2="463.0" y2="182.6" stroke="#deb8ae" stroke-width="0.7"/>
<line x1="395.3" y1="196.5" x2="463.0" y2="217.7" stroke="#e8a796" stroke-width="0.7"/>
<line x1="395.3" y1="203.8" x2="463.0" y2="179.7" stroke="#5630f9" stroke-width="0.7"/>
<line x1="395.3" y1="208.2" x2="463.0" y2="181.0" stroke="#9670e9" stroke-width="0.7"/>
<line x1="395.3" y1="236.3" x2="463.0" y2="161.1" stroke="#9670e9" stroke-width="0.7"/>
<line x1="395.3" y1="215.5" x2="463.0" y2="203.0" stroke="#deb8ae" stroke-width="0.7"/>
<line x1="395.3" y1="219.1" x2="463.0" y2="245.0" stroke="#f29179" stroke-width="0.7"/>
<line x1="395.3" y1="221.0" x2="463.0" y2="249.4" stroke="#fc5f40" stroke-width="0.7"/>
<line x1="395.3" y1="223.9" x2="463.0" y2="197.2" stroke="#f29179" stroke-width="0.7"/>
<line x1="395.3" y1="227.5" x2="463.0" y2="231.2" stroke="#6a6a6a" stroke-width="0.8"/>
<line x1="395.3" y1="236.3" x2="463.0" y2="212.6" stroke="#9670e9" stroke-width="0.7"/>
<line x1="395.3" y1="243.6" x2="463.0" y2="256.7" stroke="#deb8ae" stroke-width="0.7"/>
<line x1="395.3" y1="227.5" x2="463.0" y2="249.0" stroke="#6a6a6a" stroke-width="0.8"/>
<line x1="395.3" y1="248.7" x2="463.0" y2="270.2" stroke="#6a6a6a" stroke-width="0.8"/>
<line x1="395.3" y1="253.0" x2="463.0" y2="238.5" stroke="#cfcfcf" stroke-width="0.7"/>
<line x1="395.3" y1="267.7" x2="463.0" y2="222.4" stroke="#9670e9" stroke-width="0.7"/>
<line x1="395.3" y1="260.4" x2="463.0" y2="265.5" stroke="#e8a796" stroke-width="0.7"/>
<line x1="395.3" y1="261.5" x2="463.0" y2="217.3" stroke="#f29179" stroke-width="0.7"/>
<line x1="395.3" y1="272.4" x2="463.0" y2="249.0" stroke="#f29179" stroke-width="0.7"/>
<line x1="395.3" y1="279.0" x2="463.0" y2="277.0" stroke="#fc5f40" stroke-width="0.7"/>
<line x1="395.3" y1="283.4" x2="463.0" y2="308.0" stroke="#fc5f40" stroke-width="0.7"/>
<line x1="395.3" y1="284.8" x2="463.0" y2="238.5" stroke="#5630f9" stroke-width="0.7"/>
<line x1="395.3" y1="290.7" x2="463.0" y2="245.0" stroke="#f29179" stroke-width="0.7"/>
<line x1="395.3" y1="296.5" x2="463.0" y2="256.7" stroke="#deb8ae" stroke-width="0.7"/>
<line x1="395.3" y1="303.0" x2="463.0" y2="265.8" stroke="#deb8ae" stroke-width="0.7"/>
<line x1="395.3" y1="309.5" x2="463.0" y2="276.8" stroke="#9670e9" stroke-width="0.7"/>
<line x1="395.3" y1="313.4" x2="463.0" y2="292.8" stroke="#5630f9" stroke-width="0.7"/>
<line x1="395.3" y1="316.8" x2="463.0" y2="295.8" stroke="#6a6a6a" stroke-width="0.8"/>
<line x1="395.3" y1="321.9" x2="463.0" y2="303.8" stroke="#6a6a6a" stroke-width="0.8"/>
<line x1="395.3" y1="302.9" x2="463.0" y2="306.7" stroke="#f29179" stroke-width="0.7"/>
<line x1="395.3" y1="346.4" x2="463.0" y2="319.3" stroke="#deb8ae" stroke-width="0.7"/>
<line x1="395.3" y1="346.4" x2="463.0" y2="342.3" stroke="#deb8ae" stroke-width="0.7"/>
<line x1="395.3" y1="185.0" x2="463.0" y2="230.0" stroke="#f29179" stroke-width="0.7"/>
<line x1="395.3" y1="193.0" x2="463.0" y2="240.0" stroke="#f29179" stroke-width="0.7"/>
<line x1="395.3" y1="205.0" x2="463.0" y2="262.0" stroke="#e8a796" stroke-width="0.7"/>
<line x1="395.3" y1="230.0" x2="463.0" y2="190.0" stroke="#deb8ae" stroke-width="0.7"/>
<line x1="395.3" y1="240.0" x2="463.0" y2="205.0" stroke="#f29179" stroke-width="0.7"/>
<line x1="395.3" y1="255.0" x2="463.0" y2="300.0" stroke="#f29179" stroke-width="0.7"/>
<line x1="395.3" y1="265.0" x2="463.0" y2="225.0" stroke="#cfcfcf" stroke-width="0.7"/>
<line x1="395.3" y1="275.0" x2="463.0" y2="305.0" stroke="#fc5f40" stroke-width="0.7"/>
<line x1="395.3" y1="288.0" x2="463.0" y2="270.0" stroke="#6a6a6a" stroke-width="0.8"/>
<line x1="395.3" y1="298.0" x2="463.0" y2="279.0" stroke="#6a6a6a" stroke-width="0.8"/>
<line x1="395.3" y1="214.0" x2="463.0" y2="290.0" stroke="#f29179" stroke-width="0.7"/>
<line x1="395.3" y1="176.0" x2="463.0" y2="212.0" stroke="#e8a796" stroke-width="0.7"/>
<circle cx="395.3" cy="128.7" r="2.10" fill="#deb8ae" fill-opacity="0.5"/>
<circle cx="463.0" cy="211.0" r="2.62" fill="#8a8a8a" fill-opacity="0.5"/>
<circle cx="395.3" cy="171.0" r="2.10" fill="#8a8a8a" fill-opacity="0.5"/>
<circle cx="463.0" cy="144.3" r="3.68" fill="#8a8a8a" fill-opacity="0.5"/>
<circle cx="395.3" cy="171.0" r="2.10" fill="#8a8a8a" fill-opacity="0.5"/>
<circle cx="463.0" cy="199.4" r="2.62" fill="#8a8a8a" fill-opacity="0.5"/>
<circle cx="395.3" cy="196.5" r="2.10" fill="#8a8a8a" fill-opacity="0.5"/>
<circle cx="463.0" cy="150.0" r="2.10" fill="#8a8a8a" fill-opacity="0.5"/>
<circle cx="395.3" cy="199.4" r="2.62" fill="#8a8a8a" fill-opacity="0.5"/>
<circle cx="463.0" cy="152.5" r="2.10" fill="#8a8a8a" fill-opacity="0.5"/>
<circle cx="395.3" cy="227.5" r="2.62" fill="#8a8a8a" fill-opacity="0.5"/>
<circle cx="463.0" cy="231.2" r="4.20" fill="#8a8a8a" fill-opacity="0.5"/>
<circle cx="395.3" cy="227.5" r="2.10" fill="#8a8a8a" fill-opacity="0.5"/>
<circle cx="463.0" cy="249.0" r="2.62" fill="#8a8a8a" fill-opacity="0.5"/>
<circle cx="395.3" cy="248.7" r="2.10" fill="#8a8a8a" fill-opacity="0.5"/>
<circle cx="463.0" cy="270.2" r="2.62" fill="#8a8a8a" fill-opacity="0.5"/>
<circle cx="395.3" cy="316.8" r="1.89" fill="#8a8a8a" fill-opacity="0.5"/>
<circle cx="463.0" cy="295.8" r="3.68" fill="#8a8a8a" fill-opacity="0.5"/>
<circle cx="395.3" cy="321.9" r="1.89" fill="#8a8a8a" fill-opacity="0.5"/>
<circle cx="463.0" cy="303.8" r="2.62" fill="#8a8a8a" fill-opacity="0.5"/>
<circle cx="395.3" cy="288.0" r="2.10" fill="#8a8a8a" fill-opacity="0.5"/>
<circle cx="463.0" cy="270.0" r="2.62" fill="#8a8a8a" fill-opacity="0.5"/>
<circle cx="395.3" cy="298.0" r="2.10" fill="#8a8a8a" fill-opacity="0.5"/>
<circle cx="463.0" cy="279.0" r="2.62" fill="#8a8a8a" fill-opacity="0.5"/>
<circle cx="395.3" cy="81.6" r="2.62" fill="#e8a796" fill-opacity="0.5"/>
<circle cx="463.0" cy="41.0" r="2.10" fill="#e8a796" fill-opacity="0.5"/>
<circle cx="395.3" cy="91.9" r="3.15" fill="#9670e9" fill-opacity="0.5"/>
<circle cx="463.0" cy="100.1" r="1.89" fill="#9670e9" fill-opacity="0.5"/>
<circle cx="395.3" cy="147.2" r="2.62" fill="#cfcfcf" fill-opacity="0.5"/>
<circle cx="463.0" cy="133.4" r="3.68" fill="#cfcfcf" fill-opacity="0.5"/>
<circle cx="395.3" cy="160.4" r="2.62" fill="#deb8ae" fill-opacity="0.5"/>
<circle cx="463.0" cy="108.6" r="3.68" fill="#deb8ae" fill-opacity="0.5"/>
<circle cx="395.3" cy="156.7" r="2.10" fill="#fc5f40" fill-opacity="0.5"/>
<circle cx="463.0" cy="179.7" r="3.68" fill="#fc5f40" fill-opacity="0.5"/>
<circle cx="395.3" cy="160.4" r="3.68" fill="#5630f9" fill-opacity="0.5"/>
<circle cx="463.0" cy="151.2" r="2.62" fill="#5630f9" fill-opacity="0.5"/>
<circle cx="395.3" cy="173.8" r="2.62" fill="#e8a796" fill-opacity="0.5"/>
<circle cx="463.0" cy="134.0" r="3.68" fill="#e8a796" fill-opacity="0.5"/>
<circle cx="395.3" cy="165.0" r="3.68" fill="#deb8ae" fill-opacity="0.5"/>
<circle cx="463.0" cy="161.1" r="3.68" fill="#deb8ae" fill-opacity="0.5"/>
<circle cx="395.3" cy="179.0" r="3.68" fill="#deb8ae" fill-opacity="0.5"/>
<circle cx="463.0" cy="165.8" r="3.15" fill="#deb8ae" fill-opacity="0.5"/>
<circle cx="395.3" cy="181.9" r="3.15" fill="#deb8ae" fill-opacity="0.5"/>
<circle cx="463.0" cy="171.0" r="3.68" fill="#deb8ae" fill-opacity="0.5"/>
<circle cx="395.3" cy="190.7" r="3.15" fill="#deb8ae" fill-opacity="0.5"/>
<circle cx="463.0" cy="182.6" r="3.15" fill="#deb8ae" fill-opacity="0.5"/>
<circle cx="395.3" cy="196.5" r="3.15" fill="#e8a796" fill-opacity="0.5"/>
<circle cx="463.0" cy="217.7" r="3.15" fill="#e8a796" fill-opacity="0.5"/>
<circle cx="395.3" cy="203.8" r="3.68" fill="#5630f9" fill-opacity="0.5"/>
<circle cx="463.0" cy="179.7" r="3.15" fill="#5630f9" fill-opacity="0.5"/>
<circle cx="395.3" cy="208.2" r="3.68" fill="#9670e9" fill-opacity="0.5"/>
<circle cx="463.0" cy="181.0" r="3.15" fill="#9670e9" fill-opacity="0.5"/>
<circle cx="395.3" cy="236.3" r="4.73" fill="#9670e9" fill-opacity="0.5"/>
<circle cx="463.0" cy="161.1" r="3.68" fill="#9670e9" fill-opacity="0.5"/>
<circle cx="395.3" cy="215.5" r="3.15" fill="#deb8ae" fill-opacity="0.5"/>
<circle cx="463.0" cy="203.0" r="3.15" fill="#deb8ae" fill-opacity="0.5"/>
<circle cx="395.3" cy="219.1" r="3.15" fill="#f29179" fill-opacity="0.5"/>
<circle cx="463.0" cy="245.0" r="3.15" fill="#f29179" fill-opacity="0.5"/>
<circle cx="395.3" cy="221.0" r="3.68" fill="#fc5f40" fill-opacity="0.5"/>
<circle cx="463.0" cy="249.4" r="4.20" fill="#fc5f40" fill-opacity="0.5"/>
<circle cx="395.3" cy="223.9" r="3.15" fill="#f29179" fill-opacity="0.5"/>
<circle cx="463.0" cy="197.2" r="3.15" fill="#f29179" fill-opacity="0.5"/>
<circle cx="395.3" cy="236.3" r="4.73" fill="#9670e9" fill-opacity="0.5"/>
<circle cx="463.0" cy="212.6" r="3.68" fill="#9670e9" fill-opacity="0.5"/>
<circle cx="395.3" cy="243.6" r="3.15" fill="#deb8ae" fill-opacity="0.5"/>
<circle cx="463.0" cy="256.7" r="4.20" fill="#deb8ae" fill-opacity="0.5"/>
<circle cx="395.3" cy="253.0" r="4.73" fill="#cfcfcf" fill-opacity="0.5"/>
<circle cx="463.0" cy="238.5" r="4.20" fill="#cfcfcf" fill-opacity="0.5"/>
<circle cx="395.3" cy="267.7" r="2.62" fill="#9670e9" fill-opacity="0.5"/>
<circle cx="463.0" cy="222.4" r="3.15" fill="#9670e9" fill-opacity="0.5"/>
<circle cx="395.3" cy="260.4" r="4.20" fill="#e8a796" fill-opacity="0.5"/>
<circle cx="463.0" cy="265.5" r="4.20" fill="#e8a796" fill-opacity="0.5"/>
<circle cx="395.3" cy="261.5" r="3.15" fill="#f29179" fill-opacity="0.5"/>
<circle cx="463.0" cy="217.3" r="3.15" fill="#f29179" fill-opacity="0.5"/>
<circle cx="395.3" cy="272.4" r="3.15" fill="#f29179" fill-opacity="0.5"/>
<circle cx="463.0" cy="249.0" r="3.15" fill="#f29179" fill-opacity="0.5"/>
<circle cx="395.3" cy="279.0" r="2.10" fill="#fc5f40" fill-opacity="0.5"/>
<circle cx="463.0" cy="277.0" r="4.20" fill="#fc5f40" fill-opacity="0.5"/>
<circle cx="395.3" cy="283.4" r="2.10" fill="#fc5f40" fill-opacity="0.5"/>
<circle cx="463.0" cy="308.0" r="4.20" fill="#fc5f40" fill-opacity="0.5"/>
<circle cx="395.3" cy="284.8" r="3.68" fill="#5630f9" fill-opacity="0.5"/>
<circle cx="463.0" cy="238.5" r="3.68" fill="#5630f9" fill-opacity="0.5"/>
<circle cx="395.3" cy="290.7" r="3.15" fill="#f29179" fill-opacity="0.5"/>
<circle cx="463.0" cy="245.0" r="3.15" fill="#f29179" fill-opacity="0.5"/>
<circle cx="395.3" cy="296.5" r="3.15" fill="#deb8ae" fill-opacity="0.5"/>
<circle cx="463.0" cy="256.7" r="3.15" fill="#deb8ae" fill-opacity="0.5"/>
<circle cx="395.3" cy="303.0" r="3.68" fill="#deb8ae" fill-opacity="0.5"/>
<circle cx="463.0" cy="265.8" r="4.20" fill="#deb8ae" fill-opacity="0.5"/>
<circle cx="395.3" cy="309.5" r="2.62" fill="#9670e9" fill-opacity="0.5"/>
<circle cx="463.0" cy="276.8" r="2.62" fill="#9670e9" fill-opacity="0.5"/>
<circle cx="395.3" cy="313.4" r="2.10" fill="#5630f9" fill-opacity="0.5"/>
<circle cx="463.0" cy="292.8" r="2.62" fill="#5630f9" fill-opacity="0.5"/>
<circle cx="395.3" cy="302.9" r="3.68" fill="#f29179" fill-opacity="0.5"/>
<circle cx="463.0" cy="306.7" r="4.20" fill="#f29179" fill-opacity="0.5"/>
<circle cx="395.3" cy="346.4" r="2.31" fill="#deb8ae" fill-opacity="0.5"/>
<circle cx="463.0" cy="319.3" r="4.73" fill="#deb8ae" fill-opacity="0.5"/>
<circle cx="395.3" cy="346.4" r="2.31" fill="#deb8ae" fill-opacity="0.5"/>
<circle cx="463.0" cy="342.3" r="5.78" fill="#deb8ae" fill-opacity="0.5"/>
<circle cx="395.3" cy="185.0" r="2.62" fill="#f29179" fill-opacity="0.5"/>
<circle cx="463.0" cy="230.0" r="2.62" fill="#f29179" fill-opacity="0.5"/>
<circle cx="395.3" cy="193.0" r="2.62" fill="#f29179" fill-opacity="0.5"/>
<circle cx="463.0" cy="240.0" r="2.62" fill="#f29179" fill-opacity="0.5"/>
<circle cx="395.3" cy="205.0" r="2.62" fill="#e8a796" fill-opacity="0.5"/>
<circle cx="463.0" cy="262.0" r="3.15" fill="#e8a796" fill-opacity="0.5"/>
<circle cx="395.3" cy="230.0" r="2.62" fill="#deb8ae" fill-opacity="0.5"/>
<circle cx="463.0" cy="190.0" r="2.62" fill="#deb8ae" fill-opacity="0.5"/>
<circle cx="395.3" cy="240.0" r="2.62" fill="#f29179" fill-opacity="0.5"/>
<circle cx="463.0" cy="205.0" r="2.62" fill="#f29179" fill-opacity="0.5"/>
<circle cx="395.3" cy="255.0" r="2.62" fill="#f29179" fill-opacity="0.5"/>
<circle cx="463.0" cy="300.0" r="3.15" fill="#f29179" fill-opacity="0.5"/>
<circle cx="395.3" cy="265.0" r="2.62" fill="#cfcfcf" fill-opacity="0.5"/>
<circle cx="463.0" cy="225.0" r="2.62" fill="#cfcfcf" fill-opacity="0.5"/>
<circle cx="395.3" cy="275.0" r="2.62" fill="#fc5f40" fill-opacity="0.5"/>
<circle cx="463.0" cy="305.0" r="3.15" fill="#fc5f40" fill-opacity="0.5"/>
<circle cx="395.3" cy="214.0" r="2.62" fill="#f29179" fill-opacity="0.5"/>
<circle cx="463.0" cy="290.0" r="3.15" fill="#f29179" fill-opacity="0.5"/>
<circle cx="395.3" cy="176.0" r="2.62" fill="#e8a796" fill-opacity="0.5"/>
<circle cx="463.0" cy="212.0" r="2.62" fill="#e8a796" fill-opacity="0.5"/>
<circle cx="463.0" cy="74.0" r="3.0" fill="#8a8a8a" fill-opacity="0.6"/>
<line x1="576.4" y1="111.6" x2="644.0" y2="139.1" stroke="#6a6a6a" stroke-width="0.8"/>
<line x1="576.4" y1="116.6" x2="644.0" y2="101.4" stroke="#e8a796" stroke-width="0.7"/>
<line x1="576.4" y1="135.8" x2="644.0" y2="118.0" stroke="#e8a796" stroke-width="0.7"/>
<line x1="576.4" y1="135.8" x2="644.0" y2="183.3" stroke="#6a6a6a" stroke-width="0.8"/>
<line x1="576.4" y1="176.4" x2="644.0" y2="211.0" stroke="#fc5f40" stroke-width="0.7"/>
<line x1="576.4" y1="195.0" x2="644.0" y2="138.5" stroke="#e8a796" stroke-width="0.7"/>
<line x1="576.4" y1="181.9" x2="644.0" y2="155.6" stroke="#e8a796" stroke-width="0.7"/>
<line x1="576.4" y1="222.4" x2="644.0" y2="144.0" stroke="#cfcfcf" stroke-width="0.7"/>
<line x1="576.4" y1="211.4" x2="644.0" y2="177.8" stroke="#5630f9" stroke-width="0.7"/>
<line x1="576.4" y1="188.5" x2="644.0" y2="216.6" stroke="#cfcfcf" stroke-width="0.7"/>
<line x1="576.4" y1="191.4" x2="644.0" y2="231.9" stroke="#f29179" stroke-width="0.7"/>
<line x1="576.4" y1="203.8" x2="644.0" y2="219.7" stroke="#6a6a6a" stroke-width="0.8"/>
<line x1="576.4" y1="214.7" x2="644.0" y2="214.6" stroke="#6a6a6a" stroke-width="0.8"/>
<line x1="576.4" y1="215.8" x2="644.0" y2="196.5" stroke="#deb8ae" stroke-width="0.7"/>
<line x1="576.4" y1="226.8" x2="644.0" y2="250.0" stroke="#f29179" stroke-width="0.7"/>
<line x1="576.4" y1="233.4" x2="644.0" y2="185.5" stroke="#9670e9" stroke-width="0.7"/>
<line x1="576.4" y1="241.4" x2="644.0" y2="226.0" stroke="#e8a796" stroke-width="0.7"/>
<line x1="576.4" y1="247.2" x2="644.0" y2="203.8" stroke="#9670e9" stroke-width="0.7"/>
<line x1="576.4" y1="257.4" x2="644.0" y2="264.7" stroke="#9670e9" stroke-width="0.7"/>
<line x1="576.4" y1="261.8" x2="644.0" y2="237.0" stroke="#deb8ae" stroke-width="0.7"/>
<line x1="576.4" y1="265.8" x2="644.0" y2="221.0" stroke="#f29179" stroke-width="0.7"/>
<line x1="576.4" y1="267.7" x2="644.0" y2="294.3" stroke="#e8a796" stroke-width="0.7"/>
<line x1="576.4" y1="274.6" x2="644.0" y2="256.7" stroke="#deb8ae" stroke-width="0.7"/>
<line x1="576.4" y1="279.0" x2="644.0" y2="305.3" stroke="#f29179" stroke-width="0.7"/>
<line x1="576.4" y1="283.4" x2="644.0" y2="247.2" stroke="#5630f9" stroke-width="0.7"/>
<line x1="576.4" y1="287.7" x2="644.0" y2="279.0" stroke="#fc5f40" stroke-width="0.7"/>
<line x1="576.4" y1="292.8" x2="644.0" y2="289.9" stroke="#deb8ae" stroke-width="0.7"/>
<line x1="576.4" y1="299.4" x2="644.0" y2="321.2" stroke="#f29179" stroke-width="0.7"/>
<line x1="576.4" y1="303.0" x2="644.0" y2="311.0" stroke="#f29179" stroke-width="0.7"/>
<line x1="576.4" y1="303.6" x2="644.0" y2="275.3" stroke="#cfcfcf" stroke-width="0.7"/>
<line x1="576.4" y1="315.3" x2="644.0" y2="311.8" stroke="#5630f9" stroke-width="0.7"/>
<line x1="576.4" y1="319.0" x2="644.0" y2="269.5" stroke="#deb8ae" stroke-width="0.7"/>
<line x1="576.4" y1="325.5" x2="644.0" y2="314.7" stroke="#6a6a6a" stroke-width="0.8"/>
<line x1="576.4" y1="345.3" x2="644.0" y2="337.2" stroke="#deb8ae" stroke-width="0.7"/>
<line x1="576.4" y1="351.8" x2="644.0" y2="346.7" stroke="#deb8ae" stroke-width="0.7"/>
<line x1="576.4" y1="176.0" x2="644.0" y2="200.0" stroke="#f29179" stroke-width="0.7"/>
<line x1="576.4" y1="185.0" x2="644.0" y2="205.0" stroke="#f29179" stroke-width="0.7"/>
<line x1="576.4" y1="206.0" x2="644.0" y2="232.0" stroke="#e8a796" stroke-width="0.7"/>
<line x1="576.4" y1="231.0" x2="644.0" y2="231.0" stroke="#6a6a6a" stroke-width="0.8"/>
<line x1="576.4" y1="238.0" x2="644.0" y2="211.1" stroke="#f29179" stroke-width="0.7"/>
<line x1="576.4" y1="250.0" x2="644.0" y2="268.0" stroke="#6a6a6a" stroke-width="0.8"/>
<line x1="576.4" y1="255.0" x2="644.0" y2="231.9" stroke="#6a6a6a" stroke-width="0.8"/>
<line x1="576.4" y1="270.0" x2="644.0" y2="246.0" stroke="#6a6a6a" stroke-width="0.8"/>
<line x1="576.4" y1="277.0" x2="644.0" y2="250.0" stroke="#f29179" stroke-width="0.7"/>
<line x1="576.4" y1="290.0" x2="644.0" y2="262.0" stroke="#f29179" stroke-width="0.7"/>
<line x1="576.4" y1="298.0" x2="644.0" y2="264.7" stroke="#9670e9" stroke-width="0.7"/>
<line x1="576.4" y1="305.0" x2="644.0" y2="289.9" stroke="#f29179" stroke-width="0.7"/>
<line x1="576.4" y1="300.0" x2="644.0" y2="282.0" stroke="#cfcfcf" stroke-width="0.7"/>
<line x1="576.4" y1="260.0" x2="644.0" y2="285.0" stroke="#6a6a6a" stroke-width="0.8"/>
<line x1="576.4" y1="220.0" x2="644.0" y2="181.9" stroke="#cfcfcf" stroke-width="0.7"/>
<line x1="576.4" y1="240.0" x2="644.0" y2="258.0" stroke="#e8a796" stroke-width="0.7"/>
<line x1="576.4" y1="265.0" x2="644.0" y2="290.0" stroke="#f29179" stroke-width="0.7"/>
<line x1="576.4" y1="285.0" x2="644.0" y2="305.0" stroke="#fc5f40" stroke-width="0.7"/>
<line x1="576.4" y1="195.0" x2="644.0" y2="222.0" stroke="#deb8ae" stroke-width="0.7"/>
<line x1="576.4" y1="230.0" x2="644.0" y2="248.0" stroke="#f29179" stroke-width="0.7"/>
<line x1="576.4" y1="250.0" x2="644.0" y2="270.0" stroke="#fc5f40" stroke-width="0.7"/>
<line x1="576.4" y1="270.0" x2="644.0" y2="282.0" stroke="#f29179" stroke-width="0.7"/>
<line x1="576.4" y1="215.0" x2="644.0" y2="236.0" stroke="#f29179" stroke-width="0.7"/>
<line x1="576.4" y1="220.0" x2="644.0" y2="232.0" stroke="#6a6a6a" stroke-width="0.8"/>
<line x1="576.4" y1="240.0" x2="644.0" y2="222.0" stroke="#6a6a6a" stroke-width="0.8"/>
<line x1="576.4" y1="210.0" x2="644.0" y2="240.0" stroke="#cfcfcf" stroke-width="0.7"/>
<line x1="576.4" y1="225.0" x2="644.0" y2="205.0" stroke="#9670e9" stroke-width="0.7"/>
<line x1="576.4" y1="290.0" x2="644.0" y2="300.0" stroke="#fc5f40" stroke-width="0.7"/>
<circle cx="576.4" cy="111.6" r="1.89" fill="#8a8a8a" fill-opacity="0.5"/>
<circle cx="644.0" cy="139.1" r="3.15" fill="#8a8a8a" fill-opacity="0.5"/>
<circle cx="576.4" cy="135.8" r="2.10" fill="#8a8a8a" fill-opacity="0.5"/>
<circle cx="644.0" cy="183.3" r="2.62" fill="#8a8a8a" fill-opacity="0.5"/>
<circle cx="576.4" cy="203.8" r="1.89" fill="#8a8a8a" fill-opacity="0.5"/>
<circle cx="644.0" cy="219.7" r="2.62" fill="#8a8a8a" fill-opacity="0.5"/>
<circle cx="576.4" cy="214.7" r="1.89" fill="#8a8a8a" fill-opacity="0.5"/>
<circle cx="644.0" cy="214.6" r="2.62" fill="#8a8a8a" fill-opacity="0.5"/>
<circle cx="576.4" cy="325.5" r="1.89" fill="#8a8a8a" fill-opacity="0.5"/>
<circle cx="644.0" cy="314.7" r="2.62" fill="#8a8a8a" fill-opacity="0.5"/>
<circle cx="576.4" cy="231.0" r="2.10" fill="#8a8a8a" fill-opacity="0.5"/>
<circle cx="644.0" cy="231.0" r="2.62" fill="#8a8a8a" fill-opacity="0.5"/>
<circle cx="576.4" cy="250.0" r="2.10" fill="#8a8a8a" fill-opacity="0.5"/>
<circle cx="644.0" cy="268.0" r="2.62" fill="#8a8a8a" fill-opacity="0.5"/>
<circle cx="576.4" cy="255.0" r="2.10" fill="#8a8a8a" fill-opacity="0.5"/>
<circle cx="644.0" cy="231.9" r="2.62" fill="#8a8a8a" fill-opacity="0.5"/>
<circle cx="576.4" cy="270.0" r="2.10" fill="#8a8a8a" fill-opacity="0.5"/>
<circle cx="644.0" cy="246.0" r="2.62" fill="#8a8a8a" fill-opacity="0.5"/>
<circle cx="576.4" cy="260.0" r="2.10" fill="#8a8a8a" fill-opacity="0.5"/>
<circle cx="644.0" cy="285.0" r="2.62" fill="#8a8a8a" fill-opacity="0.5"/>
<circle cx="576.4" cy="220.0" r="2.10" fill="#8a8a8a" fill-opacity="0.5"/>
<circle cx="644.0" cy="232.0" r="2.62" fill="#8a8a8a" fill-opacity="0.5"/>
<circle cx="576.4" cy="240.0" r="2.10" fill="#8a8a8a" fill-opacity="0.5"/>
<circle cx="644.0" cy="222.0" r="2.62" fill="#8a8a8a" fill-opacity="0.5"/>
<circle cx="576.4" cy="116.6" r="3.15" fill="#e8a796" fill-opacity="0.5"/>
<circle cx="644.0" cy="101.4" r="2.10" fill="#e8a796" fill-opacity="0.5"/>
<circle cx="576.4" cy="135.8" r="2.10" fill="#e8a796" fill-opacity="0.5"/>
<circle cx="644.0" cy="118.0" r="2.10" fill="#e8a796" fill-opacity="0.5"/>
<circle cx="576.4" cy="176.4" r="2.62" fill="#fc5f40" fill-opacity="0.5"/>
<circle cx="644.0" cy="211.0" r="3.68" fill="#fc5f40" fill-opacity="0.5"/>
<circle cx="576.4" cy="195.0" r="3.68" fill="#e8a796" fill-opacity="0.5"/>
<circle cx="644.0" cy="138.5" r="3.68" fill="#e8a796" fill-opacity="0.5"/>
<circle cx="576.4" cy="181.9" r="3.68" fill="#e8a796" fill-opacity="0.5"/>
<circle cx="644.0" cy="155.6" r="3.68" fill="#e8a796" fill-opacity="0.5"/>
<circle cx="576.4" cy="222.4" r="3.68" fill="#cfcfcf" fill-opacity="0.5"/>
<circle cx="644.0" cy="144.0" r="2.62" fill="#cfcfcf" fill-opacity="0.5"/>
<circle cx="576.4" cy="211.4" r="3.68" fill="#5630f9" fill-opacity="0.5"/>
<circle cx="644.0" cy="177.8" r="2.62" fill="#5630f9" fill-opacity="0.5"/>
<circle cx="576.4" cy="188.5" r="2.62" fill="#cfcfcf" fill-opacity="0.5"/>
<circle cx="644.0" cy="216.6" r="2.62" fill="#cfcfcf" fill-opacity="0.5"/>
<circle cx="576.4" cy="191.4" r="2.62" fill="#f29179" fill-opacity="0.5"/>
<circle cx="644.0" cy="231.9" r="2.62" fill="#f29179" fill-opacity="0.5"/>
<circle cx="576.4" cy="215.8" r="3.15" fill="#deb8ae" fill-opacity="0.5"/>
<circle cx="644.0" cy="196.5" r="3.15" fill="#deb8ae" fill-opacity="0.5"/>
<circle cx="576.4" cy="226.8" r="2.62" fill="#f29179" fill-opacity="0.5"/>
<circle cx="644.0" cy="250.0" r="3.15" fill="#f29179" fill-opacity="0.5"/>
<circle cx="576.4" cy="233.4" r="4.20" fill="#9670e9" fill-opacity="0.5"/>
<circle cx="644.0" cy="185.5" r="2.62" fill="#9670e9" fill-opacity="0.5"/>
<circle cx="576.4" cy="241.4" r="3.15" fill="#e8a796" fill-opacity="0.5"/>
<circle cx="644.0" cy="226.0" r="3.15" fill="#e8a796" fill-opacity="0.5"/>
<circle cx="576.4" cy="247.2" r="3.68" fill="#9670e9" fill-opacity="0.5"/>
<circle cx="644.0" cy="203.8" r="2.62" fill="#9670e9" fill-opacity="0.5"/>
<circle cx="576.4" cy="257.4" r="4.73" fill="#9670e9" fill-opacity="0.5"/>
<circle cx="644.0" cy="264.7" r="4.73" fill="#9670e9" fill-opacity="0.5"/>
<circle cx="576.4" cy="261.8" r="3.15" fill="#deb8ae" fill-opacity="0.5"/>
<circle cx="644.0" cy="237.0" r="3.68" fill="#deb8ae" fill-opacity="0.5"/>
<circle cx="576.4" cy="265.8" r="3.15" fill="#f29179" fill-opacity="0.5"/>
<circle cx="644.0" cy="221.0" r="3.68" fill="#f29179" fill-opacity="0.5"/>
<circle cx="576.4" cy="267.7" r="3.15" fill="#e8a796" fill-opacity="0.5"/>
<circle cx="644.0" cy="294.3" r="3.15" fill="#e8a796" fill-opacity="0.5"/>
<circle cx="576.4" cy="274.6" r="3.68" fill="#deb8ae" fill-opacity="0.5"/>
<circle cx="644.0" cy="256.7" r="3.15" fill="#deb8ae" fill-opacity="0.5"/>
<circle cx="576.4" cy="279.0" r="2.62" fill="#f29179" fill-opacity="0.5"/>
<circle cx="644.0" cy="305.3" r="2.62" fill="#f29179" fill-opacity="0.5"/>
<circle cx="576.4" cy="283.4" r="3.68" fill="#5630f9" fill-opacity="0.5"/>
<circle cx="644.0" cy="247.2" r="3.68" fill="#5630f9" fill-opacity="0.5"/>
<circle cx="576.4" cy="287.7" r="3.68" fill="#fc5f40" fill-opacity="0.5"/>
<circle cx="644.0" cy="279.0" r="4.73" fill="#fc5f40" fill-opacity="0.5"/>
<circle cx="576.4" cy="292.8" r="3.68" fill="#deb8ae" fill-opacity="0.5"/>
<circle cx="644.0" cy="289.9" r="3.15" fill="#deb8ae" fill-opacity="0.5"/>
<circle cx="576.4" cy="299.4" r="3.15" fill="#f29179" fill-opacity="0.5"/>
<circle cx="644.0" cy="321.2" r="4.73" fill="#f29179" fill-opacity="0.5"/>
<circle cx="576.4" cy="303.0" r="3.15" fill="#f29179" fill-opacity="0.5"/>
<circle cx="644.0" cy="311.0" r="3.15" fill="#f29179" fill-opacity="0.5"/>
<circle cx="576.4" cy="303.6" r="3.15" fill="#cfcfcf" fill-opacity="0.5"/>
<circle cx="644.0" cy="275.3" r="3.15" fill="#cfcfcf" fill-opacity="0.5"/>
<circle cx="576.4" cy="315.3" r="2.10" fill="#5630f9" fill-opacity="0.5"/>
<circle cx="644.0" cy="311.8" r="3.68" fill="#5630f9" fill-opacity="0.5"/>
<circle cx="576.4" cy="319.0" r="4.73" fill="#deb8ae" fill-opacity="0.5"/>
<circle cx="644.0" cy="269.5" r="3.15" fill="#deb8ae" fill-opacity="0.5"/>
<circle cx="576.4" cy="345.3" r="2.10" fill="#deb8ae" fill-opacity="0.5"/>
<circle cx="644.0" cy="337.2" r="5.25" fill="#deb8ae" fill-opacity="0.5"/>
<circle cx="576.4" cy="351.8" r="2.10" fill="#deb8ae" fill-opacity="0.5"/>
<circle cx="644.0" cy="346.7" r="5.78" fill="#deb8ae" fill-opacity="0.5"/>
<circle cx="576.4" cy="176.0" r="2.62" fill="#f29179" fill-opacity="0.5"/>
<circle cx="644.0" cy="200.0" r="3.15" fill="#f29179" fill-opacity="0.5"/>
<circle cx="576.4" cy="185.0" r="2.62" fill="#f29179" fill-opacity="0.5"/>
<circle cx="644.0" cy="205.0" r="3.15" fill="#f29179" fill-opacity="0.5"/>
<circle cx="576.4" cy="206.0" r="2.62" fill="#e8a796" fill-opacity="0.5"/>
<circle cx="644.0" cy="232.0" r="2.62" fill="#e8a796" fill-opacity="0.5"/>
<circle cx="576.4" cy="238.0" r="2.62" fill="#f29179" fill-opacity="0.5"/>
<circle cx="644.0" cy="211.1" r="3.68" fill="#f29179" fill-opacity="0.5"/>
<circle cx="576.4" cy="277.0" r="2.62" fill="#f29179" fill-opacity="0.5"/>
<circle cx="644.0" cy="250.0" r="3.15" fill="#f29179" fill-opacity="0.5"/>
<circle cx="576.4" cy="290.0" r="2.62" fill="#f29179" fill-opacity="0.5"/>
<circle cx="644.0" cy="262.0" r="3.15" fill="#f29179" fill-opacity="0.5"/>
<circle cx="576.4" cy="298.0" r="2.62" fill="#9670e9" fill-opacity="0.5"/>
<circle cx="644.0" cy="264.7" r="3.15" fill="#9670e9" fill-opacity="0.5"/>
<circle cx="576.4" cy="305.0" r="2.62" fill="#f29179" fill-opacity="0.5"/>
<circle cx="644.0" cy="289.9" r="3.15" fill="#f29179" fill-opacity="0.5"/>
<circle cx="576.4" cy="300.0" r="2.62" fill="#cfcfcf" fill-opacity="0.5"/>
<circle cx="644.0" cy="282.0" r="3.68" fill="#cfcfcf" fill-opacity="0.5"/>
<circle cx="576.4" cy="220.0" r="2.62" fill="#cfcfcf" fill-opacity="0.5"/>
<circle cx="644.0" cy="181.9" r="3.15" fill="#cfcfcf" fill-opacity="0.5"/>
<circle cx="576.4" cy="240.0" r="2.62" fill="#e8a796" fill-opacity="0.5"/>
<circle cx="644.0" cy="258.0" r="3.15" fill="#e8a796" fill-opacity="0.5"/>
<circle cx="576.4" cy="265.0" r="2.62" fill="#f29179" fill-opacity="0.5"/>
<circle cx="644.0" cy="290.0" r="3.15" fill="#f29179" fill-opacity="0.5"/>
<circle cx="576.4" cy="285.0" r="2.62" fill="#fc5f40" fill-opacity="0.5"/>
<circle cx="644.0" cy="305.0" r="3.15" fill="#fc5f40" fill-opacity="0.5"/>
<circle cx="576.4" cy="195.0" r="2.62" fill="#deb8ae" fill-opacity="0.5"/>
<circle cx="644.0" cy="222.0" r="3.15" fill="#deb8ae" fill-opacity="0.5"/>
<circle cx="576.4" cy="230.0" r="2.62" fill="#f29179" fill-opacity="0.5"/>
<circle cx="644.0" cy="248.0" r="3.15" fill="#f29179" fill-opacity="0.5"/>
<circle cx="576.4" cy="250.0" r="2.62" fill="#fc5f40" fill-opacity="0.5"/>
<circle cx="644.0" cy="270.0" r="3.15" fill="#fc5f40" fill-opacity="0.5"/>
<circle cx="576.4" cy="270.0" r="2.62" fill="#f29179" fill-opacity="0.5"/>
<circle cx="644.0" cy="282.0" r="3.15" fill="#f29179" fill-opacity="0.5"/>
<circle cx="576.4" cy="215.0" r="2.62" fill="#f29179" fill-opacity="0.5"/>
<circle cx="644.0" cy="236.0" r="3.15" fill="#f29179" fill-opacity="0.5"/>
<circle cx="576.4" cy="210.0" r="2.62" fill="#cfcfcf" fill-opacity="0.5"/>
<circle cx="644.0" cy="240.0" r="2.62" fill="#cfcfcf" fill-opacity="0.5"/>
<circle cx="576.4" cy="225.0" r="2.62" fill="#9670e9" fill-opacity="0.5"/>
<circle cx="644.0" cy="205.0" r="2.62" fill="#9670e9" fill-opacity="0.5"/>
<circle cx="576.4" cy="290.0" r="2.62" fill="#fc5f40" fill-opacity="0.5"/>
<circle cx="644.0" cy="300.0" r="3.15" fill="#fc5f40" fill-opacity="0.5"/>
<circle cx="576.5" cy="151.7" r="3.0" fill="#b7a2da" fill-opacity="0.6"/>
<circle cx="644.0" cy="173.9" r="4.5" fill="#b7a2da" fill-opacity="0.6"/>
</svg></body></html>
